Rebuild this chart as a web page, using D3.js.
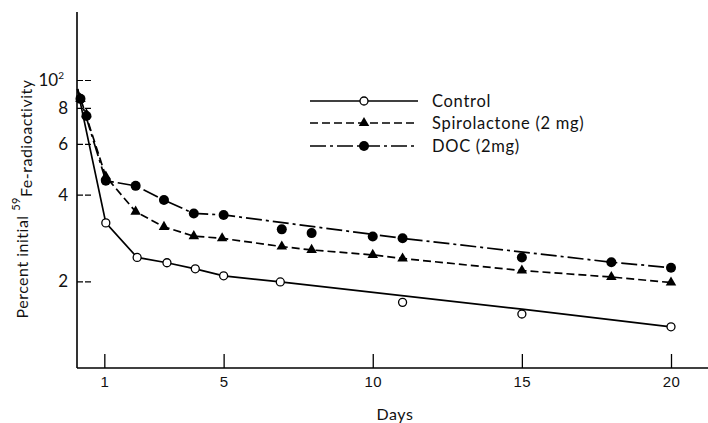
<!DOCTYPE html>
<html>
<head>
<meta charset="utf-8">
<script src="https://cdn.jsdelivr.net/npm/d3@7"></script>
<style>
  body { margin: 0; background: #fff; }
  svg { font-family: Lato, "Open Sans", sans-serif; }
</style>
</head>
<body>
<svg id="chart" width="708" height="423"></svg>
<script>
// Values (percent of initial activity vs days)
const controlDays = [1.05, 2.1, 3.1, 4.05, 5, 6.9, 11, 15, 20];
const controlPct = [31.9, 24.2, 23.2, 22.1, 20.9, 19.9, 16.9, 15.4, 13.9];
// drawn curve (smoothed past day 7)
const controlLineDays = [0.1, 1.05, 2.1, 3.1, 4.05, 5, 6.9, 15, 20];
const controlLinePct = [93, 31.9, 24.2, 23.2, 22.1, 20.9, 19.9, 16.0, 13.9];

const spiroDays = [0.2, 0.4, 1.05, 2.05, 3, 4, 4.95, 6.95, 7.95, 10, 11, 15, 18, 20];
const spiroPct = [86, 76, 46.2, 34.9, 30.9, 28.7, 28.2, 26.4, 25.7, 24.7, 24.0, 21.8, 20.7, 19.8];
const spiroLineDays = [0.1, 1.05, 2.05, 3, 4, 4.95, 6.95, 7.95, 10, 11, 15, 18, 20];
const spiroLinePct = [93, 46.2, 34.9, 30.9, 28.7, 28.2, 26.4, 25.7, 24.7, 24.0, 21.8, 20.7, 19.8];

const docDays = [0.2, 0.4, 1.05, 2.05, 3, 4, 5, 6.95, 7.95, 10, 11, 15, 18, 20];
const docPct = [86, 75, 44.7, 42.9, 38.3, 34.4, 34.0, 30.3, 29.4, 28.6, 28.2, 24.2, 23.3, 22.3];
const docLineDays = [0.1, 1.05, 2.05, 3, 4, 5, 11, 18, 20];
const docLinePct = [93, 44.7, 42.9, 38.3, 34.4, 34.0, 28.2, 23.3, 22.3];

const xTicks = [1, 5, 10, 15, 20];
const yTicks = [100, 80, 60, 40, 20];
const yTickLabels = ["10", "8", "6", "4", "2"];

const legendNames = ["Control", "Spirolactone (2 mg)", "DOC (2mg)"];

const svg = d3.select("#chart");

const x = d3.scaleLinear().domain([0, 20]).range([74.5, 671]);
const y = d3.scaleLog().domain([10, 100]).range([368, 80]);

const axisX0 = 77, axisY0 = 368;

// axes lines
svg.append("line")
    .attr("x1", axisX0).attr("x2", axisX0)
    .attr("y1", 12).attr("y2", axisY0)
    .attr("stroke", "#000").attr("stroke-width", 1.6);
svg.append("line")
    .attr("x1", axisX0).attr("x2", 708)
    .attr("y1", axisY0).attr("y2", axisY0)
    .attr("stroke", "#000").attr("stroke-width", 1.6);

// x ticks point up into the plot
const gx = svg.append("g")
    .attr("transform", `translate(0,${axisY0})`)
    .call(d3.axisBottom(x).tickValues(xTicks).tickSize(-14).tickPadding(8).tickFormat(d3.format("d")));
gx.select(".domain").remove();
gx.selectAll("line").attr("stroke-width", 1.3);
gx.selectAll("text").attr("font-size", 15).attr("fill", "#111").attr("letter-spacing", 0.5);

// y ticks point right into the plot
const gy = svg.append("g")
    .attr("transform", `translate(${axisX0},0)`)
    .call(d3.axisRight(y).tickValues(yTicks).tickSize(15).tickFormat(""));
gy.select(".domain").remove();
gy.selectAll("line").attr("stroke-width", 1.2).attr("stroke-dasharray", "6,2");

svg.append("g").selectAll("text")
    .data(yTicks)
    .join("text")
    .attr("x", 68)
    .attr("y", d => y(d))
    .attr("dy", "0.36em")
    .attr("text-anchor", "end")
    .attr("font-size", 17)
    .attr("fill", "#111")
    .text((d, i) => yTickLabels[i])
    .filter(d => d === 100)
    .attr("x", 64)
    .append("tspan")
    .attr("dy", "-0.7em")
    .attr("font-size", 10)
    .text("2");

// axis titles
svg.append("text")
    .attr("x", 395).attr("y", 420)
    .attr("text-anchor", "middle")
    .attr("font-size", 16)
    .attr("letter-spacing", 0.6)
    .attr("fill", "#111")
    .text("Days");

const yt = svg.append("text")
    .attr("transform", "translate(28,199) rotate(-90)")
    .attr("text-anchor", "middle")
    .attr("font-size", 16)
    .attr("letter-spacing", 0.5)
    .attr("fill", "#111");
yt.append("tspan").text("Percent initial ");
yt.append("tspan").attr("font-size", 11).attr("dy", "-0.7em").text("59");
yt.append("tspan").attr("dy", "0.7em").text("Fe-radioactivity");

// lines
const line = d3.line().x(d => x(d[0])).y(d => y(d[1]));
const zip = (a, b) => a.map((d, i) => [d, b[i]]);

const series = [
    {line: zip(controlLineDays, controlLinePct), pts: zip(controlDays, controlPct), dash: null, marker: "open"},
    {line: zip(spiroLineDays, spiroLinePct), pts: zip(spiroDays, spiroPct), dash: "8,4", marker: "tri"},
    {line: zip(docLineDays, docLinePct), pts: zip(docDays, docPct), dash: "16,4,3,4", marker: "dot"}
];

function drawMarker(g, kind, cx, cy) {
    if (kind === "open") {
        g.append("circle").attr("cx", cx).attr("cy", cy).attr("r", 4)
            .attr("fill", "#fff").attr("stroke", "#000").attr("stroke-width", 1.3);
    } else if (kind === "dot") {
        g.append("circle").attr("cx", cx).attr("cy", cy).attr("r", 5).attr("fill", "#000");
    } else {
        g.append("path")
            .attr("transform", `translate(${cx},${cy})`)
            .attr("d", d3.symbol(d3.symbolTriangle, 48)())
            .attr("fill", "#000");
    }
}

series.forEach(s => {
    svg.append("path")
        .attr("d", line(s.line))
        .attr("fill", "none")
        .attr("stroke", "#000")
        .attr("stroke-width", 1.7)
        .attr("stroke-dasharray", s.dash);
    const g = svg.append("g");
    s.pts.forEach(p => drawMarker(g, s.marker, x(p[0]), y(p[1])));
});

// legend
const legY = [101, 123, 146];
series.forEach((s, i) => {
    const g = svg.append("g");
    g.append("line")
        .attr("x1", 310).attr("x2", 418)
        .attr("y1", legY[i]).attr("y2", legY[i])
        .attr("stroke", "#000").attr("stroke-width", 1.7)
        .attr("stroke-dasharray", s.dash);
    drawMarker(g, s.marker, 364, legY[i]);
    g.append("text")
        .attr("x", 432).attr("y", legY[i])
        .attr("dy", "0.35em")
        .attr("font-size", 16.5)
        .attr("letter-spacing", 0.7)
        .attr("fill", "#111")
        .text(legendNames[i]);
});
</script>
</body>
</html>
